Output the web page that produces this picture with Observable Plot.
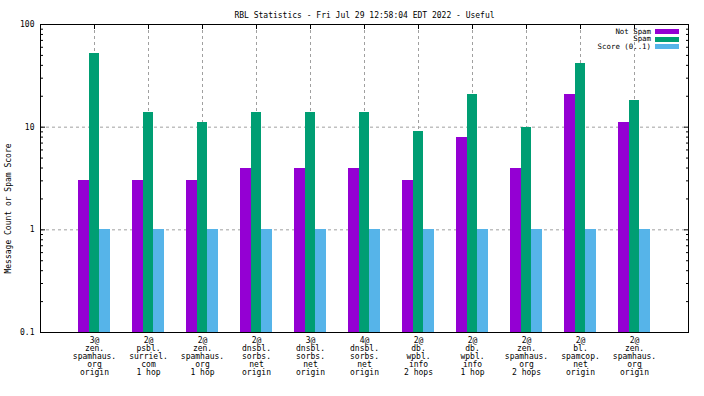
<!DOCTYPE html>
<html>
<head>
<meta charset="utf-8">
<script src="https://cdn.jsdelivr.net/npm/d3@7"></script>
<script src="https://cdn.jsdelivr.net/npm/@observablehq/plot@0.6"></script>
<style>
  html, body { margin: 0; padding: 0; background: #fff; }
  #chart svg { display: block; }
</style>
</head>
<body>
<div id="chart"></div>
<script>
const title = "RBL Statistics - Fri Jul 29 12:58:04 EDT 2022 - Useful";
const yLabel = "Message Count or Spam Score";
const seriesNames = ["Not Spam", "Spam", "Score (0..1)"];
const seriesColors = ["#9400d3", "#009e73", "#56b4e9"];
const categories = [
  "3@\nzen.\nspamhaus.\norg\norigin",
  "2@\npsbl.\nsurriel.\ncom\n1 hop",
  "2@\nzen.\nspamhaus.\norg\n1 hop",
  "2@\ndnsbl.\nsorbs.\nnet\norigin",
  "3@\ndnsbl.\nsorbs.\nnet\norigin",
  "4@\ndnsbl.\nsorbs.\nnet\norigin",
  "2@\ndb.\nwpbl.\ninfo\n2 hops",
  "2@\ndb.\nwpbl.\ninfo\n1 hop",
  "2@\nzen.\nspamhaus.\norg\n2 hops",
  "2@\nbl.\nspamcop.\nnet\norigin",
  "2@\nzen.\nspamhaus.\norg\norigin"
];
const notSpam = [3, 3, 3, 4, 4, 4, 3, 8, 4, 21, 11];
const spam = [52, 14, 11, 14, 14, 14, 9, 21, 10, 42, 18];
const score = [1, 1, 1, 1, 1, 1, 1, 1, 1, 1, 1];
const yTicks = [0.1, 1, 10, 100];
const yMinor = [0.2,0.3,0.4,0.5,0.6,0.7,0.8,0.9,2,3,4,5,6,7,8,9,20,30,40,50,60,70,80,90];

const seriesValues = [notSpam, spam, score];
const idx = categories.map((_, i) => i);
const barW = 0.2;
const rows = [];
seriesValues.forEach((vals, j) => {
  vals.forEach((v, i) => {
    rows.push({i, series: seriesNames[j], value: v, x1: i - 0.3 + j * barW, x2: i - 0.3 + (j + 1) * barW});
  });
});

const grid = {stroke: "#a0a0a0", strokeDasharray: "3,3", strokeWidth: 1};

const plot = Plot.plot({
  width: 704,
  height: 396,
  marginLeft: 40,
  marginRight: 16,
  marginTop: 24,
  marginBottom: 64,
  style: {fontFamily: "DejaVu Sans Mono", fontSize: "8px", color: "#000", background: "#fff"},
  x: {type: "linear", domain: [-1, 11], axis: null},
  y: {type: "log", domain: [0.1, 100], axis: null},
  color: {domain: seriesNames, range: seriesColors},
  marks: [
    Plot.ruleY([1, 10], grid),
    Plot.ruleX(idx, grid),
    Plot.rectY(rows, {x1: "x1", x2: "x2", y1: () => 0.1, y2: "value", fill: "series", shapeRendering: "crispEdges"}),
    Plot.frame({stroke: "#000", strokeWidth: 1}),
    Plot.axisY({anchor: "left", ticks: yTicks, tickSize: 0, tickPadding: 6, tickFormat: d => d === 0.1 ? "0.1" : String(d), label: null, stroke: "none"}),
    Plot.axisY({anchor: "left", ticks: yTicks, tickSize: -5, fill: "none", label: null}),
    Plot.axisY({anchor: "left", ticks: yMinor, tickSize: -3, fill: "none", label: null}),
    Plot.axisY({anchor: "right", ticks: yTicks, tickSize: -5, fill: "none", label: null}),
    Plot.axisY({anchor: "right", ticks: yMinor, tickSize: -3, fill: "none", label: null}),
    Plot.axisX({anchor: "top", ticks: idx, tickSize: -4, fill: "none", label: null}),
    Plot.text(categories, {x: (d, i) => i, frameAnchor: "bottom", lineAnchor: "top", dy: 4.5, lineHeight: 1.0, fill: "#000"}),
    Plot.text([title], {frameAnchor: "top", dy: -12, fill: "#000"}),
    Plot.text([yLabel], {frameAnchor: "left", textAnchor: "middle", rotate: -90, dx: -32, dy: 30, fill: "#000"})
  ]
});

document.getElementById("chart").appendChild(plot);

// legend (inside the frame, top-right)
const svg = d3.select(plot);
const color = plot.scale("color");
const lg = svg.append("g").attr("font-family", "DejaVu Sans Mono").attr("font-size", "7.4px");
seriesNames.forEach((name, j) => {
  const cy = 31.6 + j * 7.5;
  lg.append("text").attr("x", 651).attr("y", cy).attr("dy", "0.32em")
    .attr("text-anchor", "end").attr("fill", "#000").text(name);
  lg.append("rect").attr("x", 655).attr("y", cy - 2.4).attr("width", 24).attr("height", 4.8)
    .attr("fill", color.apply(name)).attr("shape-rendering", "crispEdges");
});
</script>
</body>
</html>
